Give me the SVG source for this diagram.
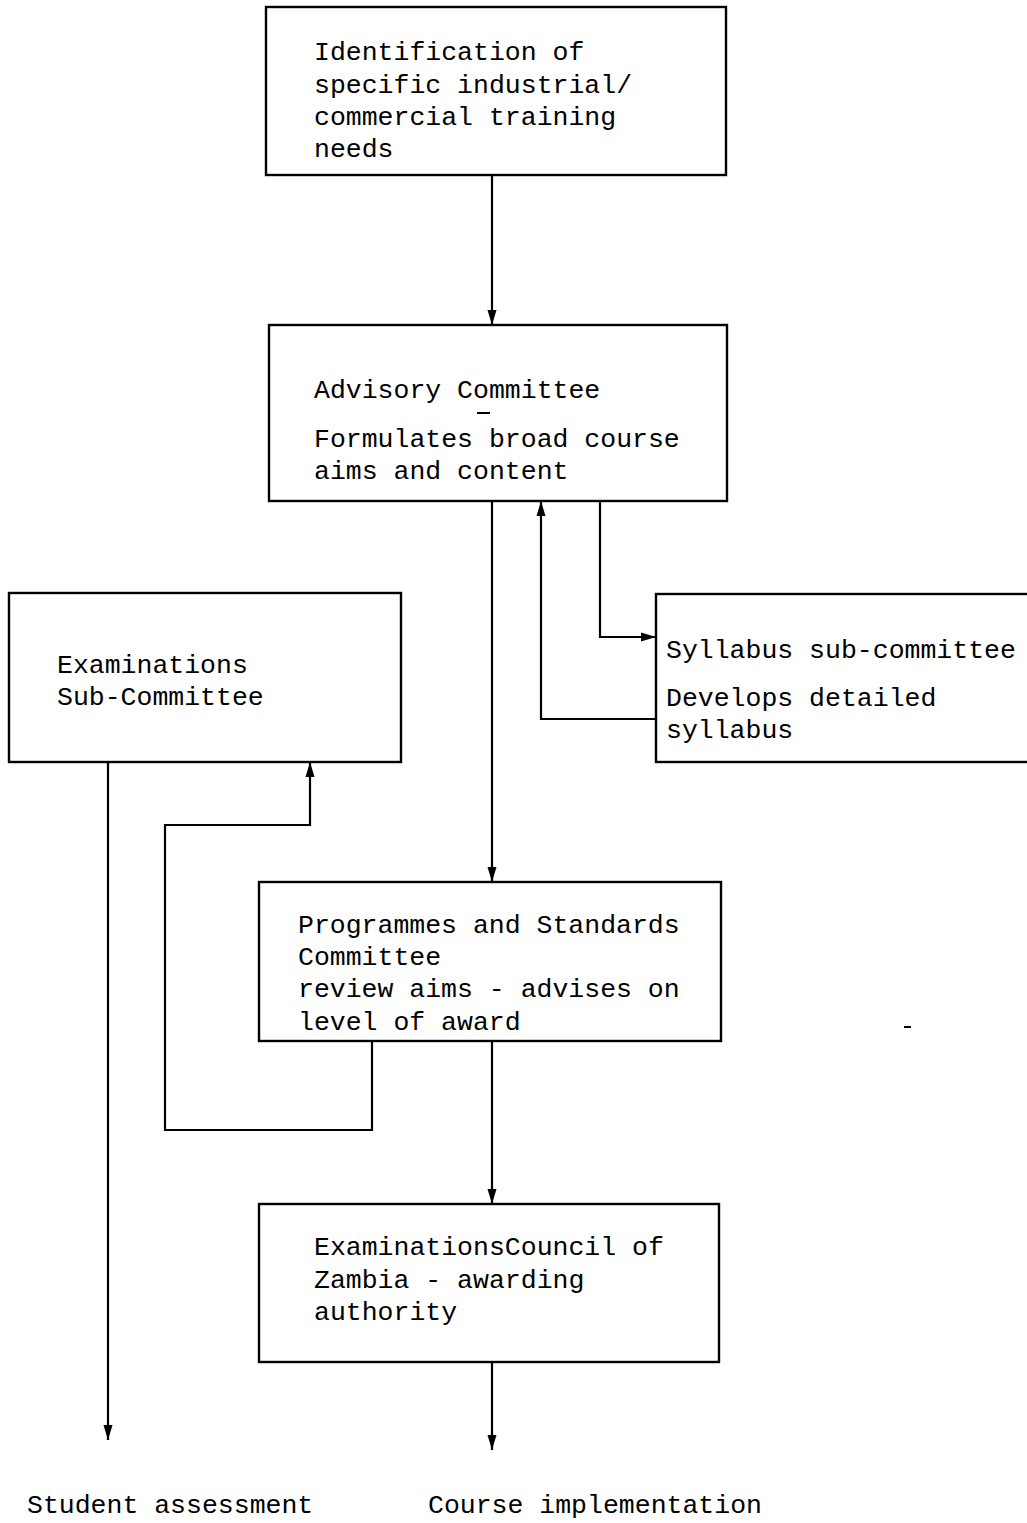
<svg xmlns="http://www.w3.org/2000/svg" width="1027" height="1523" viewBox="0 0 1027 1523">
<defs>
<style>
.box{fill:#fff;stroke:#000;stroke-width:2.4}
.ln{fill:none;stroke:#000;stroke-width:2.2}
text{font-family:"Liberation Mono","DejaVu Sans Mono",monospace;font-size:26.5px;fill:#000}
</style>
<marker id="ah" viewBox="0 0 15 10" refX="15" refY="5" markerWidth="15" markerHeight="10" markerUnits="userSpaceOnUse" orient="auto">
<path d="M0,0.5 L15,5 L0,9.5 Z" fill="#000"/>
</marker>
</defs>
<rect width="1027" height="1523" fill="#fff"/>
<g id="connectors">
<path class="ln" d="M492,175 V325" marker-end="url(#ah)"/>
<path class="ln" d="M492,501 V882" marker-end="url(#ah)"/>
<path class="ln" d="M600,501 V637 H656" marker-end="url(#ah)"/>
<path class="ln" d="M656,719 H541 V501" marker-end="url(#ah)"/>
<path class="ln" d="M108,762 V1440" marker-end="url(#ah)"/>
<path class="ln" d="M372,1041 V1130 H165 V825 H310 V762" marker-end="url(#ah)"/>
<path class="ln" d="M492,1041 V1204" marker-end="url(#ah)"/>
<path class="ln" d="M492,1362 V1450" marker-end="url(#ah)"/>
</g>
<g id="n1">
<rect class="box" x="266" y="7" width="460" height="168"/>
<text x="314" y="60">Identification of</text>
<text x="314" y="93">specific industrial/</text>
<text x="314" y="125">commercial training</text>
<text x="314" y="157">needs</text>
</g>
<g id="n2">
<rect class="box" x="269" y="325" width="458" height="176"/>
<text x="314" y="398">Advisory Committee</text>
<line x1="477" y1="413" x2="490" y2="413" stroke="#000" stroke-width="2"/>
<text x="314" y="447">Formulates broad course</text>
<text x="314" y="479">aims and content</text>
</g>
<g id="n3">
<rect class="box" x="656" y="594" width="380" height="168"/>
<text x="666" y="658">Syllabus sub-committee</text>
<text x="666" y="706">Develops detailed</text>
<text x="666" y="738">syllabus</text>
</g>
<g id="n4">
<rect class="box" x="9" y="593" width="392" height="169"/>
<text x="57" y="673">Examinations</text>
<text x="57" y="705">Sub-Committee</text>
</g>
<g id="n5">
<rect class="box" x="259" y="882" width="462" height="159"/>
<text x="298" y="933">Programmes and Standards</text>
<text x="298" y="965">Committee</text>
<text x="298" y="997">review aims - advises on</text>
<text x="298" y="1030">level of award</text>
</g>
<line x1="904" y1="1027" x2="911" y2="1027" stroke="#000" stroke-width="2"/>
<g id="n6">
<rect class="box" x="259" y="1204" width="460" height="158"/>
<text x="314" y="1255">ExaminationsCouncil of</text>
<text x="314" y="1288">Zambia - awarding</text>
<text x="314" y="1320">authority</text>
</g>
<g id="out1">
<text x="27" y="1513">Student assessment</text>
</g>
<g id="out2">
<text x="428" y="1513">Course implementation</text>
</g>
</svg>
